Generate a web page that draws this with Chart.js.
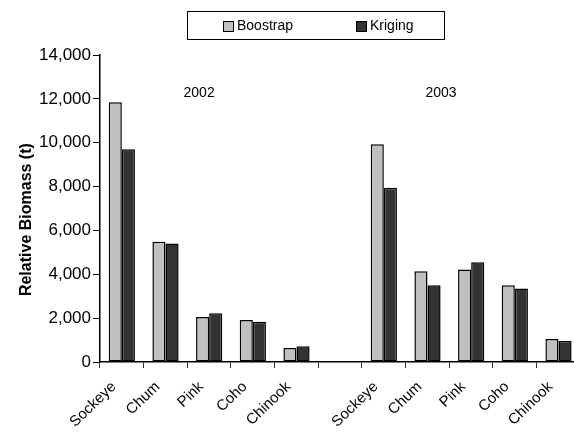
<!DOCTYPE html>
<html><head><meta charset="utf-8">
<script src="https://cdn.jsdelivr.net/npm/chart.js@4.4.1/dist/chart.umd.min.js"></script>
<style>
html,body{margin:0;padding:0;background:#fff;overflow:hidden;width:574px;height:437px}
#wrap{position:relative;width:574px;height:437px;overflow:hidden}
canvas{position:absolute;left:0;top:0}
#legend{position:absolute;left:187px;top:11px;width:258px;height:29px;border:1px solid #000;box-sizing:border-box;font:14px "Liberation Sans",Arial,sans-serif;color:#000}
.item{position:absolute;top:5px;display:flex;align-items:center;white-space:nowrap;line-height:16px}
.sw{width:11px;height:11px;border:1px solid #000;box-sizing:border-box;margin-right:3px;margin-top:3px}
</style></head><body>
<div id="wrap"><canvas id="c" width="581" height="437" style="width:581px;height:437px"></canvas><div id="legend"></div></div>
<script>
// ---- data ----
const categories = ['Sockeye','Chum','Pink','Coho','Chinook','','Sockeye','Chum','Pink','Coho','Chinook'];
const seriesNames = ['Boostrap','Kriging'];
const boostrap = [11850, 5480, 2050, 1920, 640, null, 9930, 4140, 4220, 3500, 1050];
const kriging  = [ 9700, 5400, 2220, 1830, 720, null, 7950, 3500, 4550, 3350,  960];
const yearLabels = ['2002','2003'];
const yTickValues = [0, 2000, 4000, 6000, 8000, 10000, 12000, 14000];

// ---- styles / positions ----
const seriesColors = ['#c0c0c0', '#333333'];
const yearPos = [{x: 1.77, y: 12270}, {x: 7.31, y: 12270}];
const legendLeft = [35, 168];
const FONT = '"Liberation Sans", Arial, sans-serif';

const yearPlugin = {
  id: 'yearLabels',
  afterDatasetsDraw(chart) {
    const {ctx, scales: {x, y}} = chart;
    ctx.save();
    ctx.font = '14px ' + FONT;
    ctx.fillStyle = '#000';
    ctx.textAlign = 'center';
    ctx.textBaseline = 'middle';
    yearLabels.forEach((t, i) => {
      ctx.fillText(t, x.getPixelForValue(yearPos[i].x), y.getPixelForValue(yearPos[i].y));
    });
    ctx.restore();
  }
};

const chart = new Chart(document.getElementById('c'), {
  type: 'bar',
  data: {
    labels: categories,
    datasets: [
      {label: seriesNames[0], data: boostrap, backgroundColor: seriesColors[0], borderColor: '#000', borderWidth: 1.5, borderSkipped: false},
      {label: seriesNames[1], data: kriging, backgroundColor: seriesColors[1], borderColor: '#000', borderWidth: 1.5, borderSkipped: false}
    ]
  },
  options: {
    responsive: false,
    animation: false,
    devicePixelRatio: 1,
    layout: {padding: {top: 55, right: 0, bottom: 0, left: 0}},
    datasets: {bar: {categoryPercentage: 0.6, barPercentage: 1.0}},
    plugins: {legend: {display: false}, tooltip: {enabled: false}},
    scales: {
      x: {
        offset: true,
        grid: {display: true, drawOnChartArea: false, offset: true, tickLength: 6, color: '#333', lineWidth: 1},
        border: {display: true, color: '#000', width: 1.5},
        ticks: {color: '#000', font: {family: FONT, size: 15}, minRotation: 44, maxRotation: 44, autoSkip: false, padding: 10, labelOffset: -8},
        afterFit(s) { s.height = 75; }
      },
      y: {
        min: 0, max: 14000,
        afterBuildTicks(s) { s.ticks = yTickValues.map(v => ({value: v})); },
        grid: {display: true, drawOnChartArea: false, tickLength: 7, color: '#000', lineWidth: 1},
        border: {display: true, color: '#000', width: 1.5},
        ticks: {color: '#000', font: {family: FONT, size: 17}, padding: 2,
          callback: v => v.toLocaleString('en-US')},
        title: {display: true, text: 'Relative Biomass (t)\u00a0\u00a0\u00a0\u00a0\u00a0', color: '#000',
          font: {family: FONT, size: 16, weight: 'bold'}, padding: {top: 17, bottom: 0}},
        afterFit(s) { s.width = 100; }
      }
    }
  },
  plugins: [yearPlugin]
});

// HTML legend built from the chart's datasets
const lg = document.getElementById('legend');
chart.data.datasets.forEach((ds, i) => {
  const it = document.createElement('div');
  it.className = 'item';
  it.style.left = legendLeft[i] + 'px';
  const sw = document.createElement('span');
  sw.className = 'sw';
  sw.style.background = ds.backgroundColor;
  const tx = document.createElement('span');
  tx.textContent = ds.label;
  it.appendChild(sw); it.appendChild(tx);
  lg.appendChild(it);
});
</script>
</body></html>
